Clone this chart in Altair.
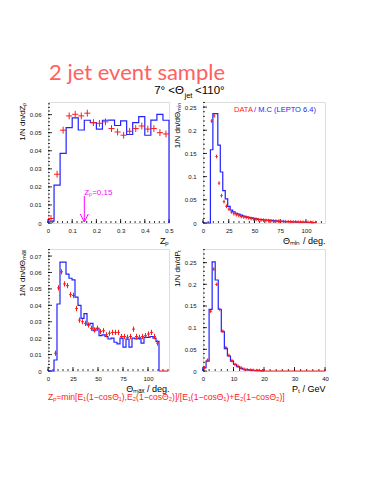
import altair as alt
import pandas as pd
import numpy as np

FONT = "Liberation Sans"
RED = "#ff1a1a"
BLUE = "#2222ff"
MAG = "#ff00ff"

# ---------------- Panel 1 : Zp ----------------
zp_bw = 0.025
zp_mc = [0.001, 0.021, 0.0385, 0.0528, 0.0582, 0.0515, 0.0569, 0.0556, 0.052, 0.0569,
         0.057, 0.054, 0.0565, 0.049, 0.0556, 0.0589, 0.0486, 0.057, 0.0602, 0.0569]
zp_data = [0.0025, 0.027, 0.0514, 0.0593, 0.0602, 0.0593, 0.0608, 0.0556, 0.0552, 0.056,
           0.0523, 0.0504, 0.0486, 0.0508, 0.0523, 0.0537, 0.052, 0.0523, 0.05, 0.0493]
zp_err = 0.0019
zp_cut = [0.15]
zp_cut_label = "Zₚ=0.15"

# ---------------- Panel 2 : Theta_min ----------------
tmin_bw = 2.4
tmin_mc = [0, 0, 0, 0.158, 0.236, 0.236, 0.168, 0.11, 0.07, 0.052, 0.036, 0.028, 0.024,
           0.021, 0.019, 0.017, 0.015, 0.013, 0.012, 0.011, 0.010, 0.009, 0.008, 0.0075,
           0.007, 0.0065, 0.006, 0.0055, 0.005, 0.0045, 0.004, 0.004, 0.0035, 0.003, 0.003,
           0.0028, 0.0025, 0.0023, 0.002, 0.002, 0.0018, 0.0015, 0.0015, 0.0012, 0.001]
tmin_data = [None, None, None, 0.22, 0.231, 0.1435, 0.086, 0.059, 0.046, 0.036, 0.03,
             0.024, 0.02, 0.018, 0.016, 0.014, 0.013, 0.012, 0.011, 0.0095, 0.009, 0.008,
             0.007, 0.0065, 0.006, 0.0055, 0.005, 0.0045, 0.004, 0.0038, 0.0035, 0.003,
             0.003, 0.0028, 0.0025, 0.0022, 0.002, 0.002, 0.0018, 0.0015, 0.0015, 0.0013,
             0.0012, 0.001, 0.001, 0.0008]
tmin_err = 0.004

# ---------------- Panel 3 : Theta_max ----------------
tmax_bw = 3.0
tmax_mc = [0, 0, 0.0067, 0.0408, 0.0663, 0.0663, 0.059, 0.0565, 0.0555, 0.045, 0.040,
           0.032, 0.035, 0.028, 0.029, 0.0245, 0.026, 0.0215, 0.022, 0.021, 0.0195, 0.020,
           0.0175, 0.0165, 0.020, 0.0145, 0.0195, 0.0145, 0.020, 0.0195, 0.020, 0.017,
           0.0205, 0.0205, 0.021, 0.020, 0.018]
tmax_data = [None, None, 0.0108, 0.0506, 0.0604, 0.053, 0.052, 0.0465, 0.046, 0.038, 0.031,
             0.030, 0.029, 0.028, 0.026, 0.025, 0.026, 0.024, 0.0245, 0.022, 0.023, 0.0235,
             0.0235, 0.0235, 0.021, 0.021, 0.0205, 0.021, 0.0255, 0.021, 0.0205, 0.021,
             0.0215, 0.0225, 0.0235, 0.021, 0.017, 0, 0, 0]
tmax_err = 0.0016

# ---------------- Panel 4 : Pt ----------------
pt_bw = 1.0
pt_mc = [0.0077, 0.023, 0.142, 0.252, 0.21, 0.1425, 0.0908, 0.0515, 0.0346, 0.023, 0.0154,
         0.010, 0.006, 0.004, 0.003, 0.002, 0.0015, 0.001, 0.0008, 0.0005]
pt_data = [0.007, 0.025, 0.138, 0.235, 0.2, 0.142, 0.092, 0.054, 0.036, 0.024, 0.015, 0.011,
           0.007, 0.004, 0.003, 0.002, 0.0015, 0.001, 0.001, 0.0005] + [0] * 20
pt_err = 0.004

# texts
main_title = "2 jet event sample"
sub_a, sub_b, sub_c = "7° <Θ", "jet", "<110°"
formula = "Zₚ=min[E₁(1−cosΘ₁),E₂(1−cosΘ₂)]/[E₁(1−cosΘ₁)+E₂(1−cosΘ₂)]"
leg_data, leg_mc = "DATA", "/ M.C (LEPTO 6.4)"


def hist_df(vals, bw):
    xs, ys = [0.0], [0.0]
    for i, v in enumerate(vals):
        xs.append(i * bw)
        ys.append(v)
    n = len(vals)
    xs += [n * bw, n * bw]
    ys += [vals[-1], 0.0]
    return pd.DataFrame({"x": xs, "y": ys, "o": list(range(len(xs)))})


def cross_df(vals, bw, err):
    rows = []
    for i, v in enumerate(vals):
        if v is None:
            continue
        c = (i + 0.5) * bw
        e = err if v > 0 else 0.0
        rows.append(dict(x0=c - bw / 2, x1=c + bw / 2, xc=c, y=v, lo=max(v - e, 0), hi=v + e))
    return pd.DataFrame(rows)


def txt(s, x, y, size, color, align="left", font=FONT, weight="normal"):
    return alt.Chart(pd.DataFrame({"t": [s]})).mark_text(
        align=align, baseline="alphabetic", font=font, fontSize=size, color=color,
        fontWeight=weight).encode(x=alt.value(x), y=alt.value(y), text="t:N")


LABEL_EXPR = "'' + datum.value"


def panel(W, H, xdom, ydom, mc, bw, data, err, xmaj, xmin, ymaj, ymin, xtitle, ytitle, extras=()):
    xs = alt.Scale(domain=xdom, nice=False, zero=False)
    ys = alt.Scale(domain=ydom, nice=False, zero=False)
    xax = alt.Axis(values=xmaj, labelExpr=LABEL_EXPR, ticks=False, domain=False, grid=False,
                   labelFont=FONT, labelFontSize=6, labelColor="#111", labelPadding=4,
                   labelFlush=False, labelOverlap=False, title=xtitle, titleFont=FONT,
                   titleFontSize=9, titleFontWeight="normal", titleAnchor="end",
                   titlePadding=3, titleColor="#000")
    yax = alt.Axis(values=ymaj, labelExpr=LABEL_EXPR, ticks=False, domain=False, grid=False,
                   labelFont=FONT, labelFontSize=6, labelColor="#111", labelPadding=7,
                   labelFlush=False, labelOverlap=False, title=ytitle, titleFont=FONT,
                   titleFontSize=8, titleFontWeight="normal", titleAnchor="end",
                   titlePadding=3, titleColor="#000")
    X = lambda f: alt.X(f, type="quantitative", scale=xs, axis=xax)
    Y = lambda f: alt.Y(f, type="quantitative", scale=ys, axis=yax)

    layers = []
    # ticks (inward, ROOT style)
    for vals, ln in ((xmin, 2), (xmaj, 4)):
        layers.append(alt.Chart(pd.DataFrame({"t": vals})).mark_rule(color="#000", strokeWidth=0.8)
                      .encode(x=X("t"), y=alt.value(H), y2=alt.value(H - ln)))
    for vals, ln in ((ymin, 2), (ymaj, 4)):
        layers.append(alt.Chart(pd.DataFrame({"t": vals})).mark_rule(color="#000", strokeWidth=0.8)
                      .encode(y=Y("t"), x=alt.value(0), x2=alt.value(ln)))
    h = hist_df(mc, bw)
    layers.append(alt.Chart(h).mark_line(interpolate="step-after", color=BLUE, strokeWidth=1.2)
                  .encode(x=X("x"), y=Y("y"), order="o:Q"))
    c = cross_df(data, bw, err)
    layers.append(alt.Chart(c).mark_rule(color=RED, strokeWidth=1)
                  .encode(x=X("x0"), x2="x1", y=Y("y")))
    layers.append(alt.Chart(c).mark_rule(color=RED, strokeWidth=1)
                  .encode(x=X("xc"), y=Y("lo"), y2="hi"))
    for e in extras:
        layers.append(e(X, Y))
    return alt.layer(*layers).properties(width=W, height=H)


def frange(a, b, s):
    return [round(v, 6) for v in np.arange(a, b + s / 2, s)]


# panel 1 extras
def p1_extras(X, Y):
    return alt.layer(
        txt(main_title, 1, -22, 22, "#ff6060", font="Lato"),
        txt(sub_a, 136, -8.5, 11.5, "#000", align="right"),
        txt(sub_b, 136.5, -4.5, 7.5, "#000"),
        txt(sub_c, 147, -8.5, 11.5, "#000"),
        alt.Chart(pd.DataFrame({"x": zp_cut, "t": [zp_cut_label]})).mark_text(
            align="left", baseline="middle", font=FONT, fontSize=8, color=MAG)
        .encode(x=X("x"), y=alt.value(90.5), text="t:N"),
        alt.Chart(pd.DataFrame({"x": zp_cut})).mark_rule(color=MAG, strokeWidth=1)
        .encode(x=X("x"), y=alt.value(94), y2=alt.value(120)),
        alt.Chart(pd.DataFrame({"x": zp_cut})).mark_point(
            shape="M-1,-1L0,1L1,-1", filled=False, color=MAG, size=64, strokeWidth=1, opacity=1)
        .encode(x=X("x"), y=alt.value(116)),
    )


def p2_extras(X, Y):
    return alt.layer(
        txt(leg_data, 31, 10, 7.5, RED),
        txt(leg_mc, 51, 10, 7.5, BLUE),
    )


def p3_extras(X, Y):
    return txt(formula, 0, 151, 8.6, RED)


p1 = panel(121, 121, [0, 0.5], [0, 0.067], zp_mc, zp_bw, zp_data, zp_err,
           frange(0, 0.5, 0.1), frange(0, 0.5, 0.02), frange(0, 0.06, 0.01), frange(0, 0.066, 0.002),
           "Zₚ", "1/N dn/dZₚ", extras=(p1_extras,))
p2 = panel(122, 121, [0, 118.5], [0, 0.261], tmin_mc, tmin_bw, tmin_data, tmin_err,
           [0, 25, 50, 75, 100], frange(0, 115, 5), frange(0, 0.25, 0.05), frange(0, 0.26, 0.01),
           "Θₘᵢₙ / deg.", "1/N dn/dΘₘᵢₙ", extras=(p2_extras,))
p3 = panel(121, 122, [0, 121], [0, 0.0743], tmax_mc, tmax_bw, tmax_data, tmax_err,
           [0, 25, 50, 75, 100], frange(0, 120, 5), frange(0, 0.07, 0.01), frange(0, 0.074, 0.002),
           "Θₘₐₓ / deg.", "1/N dn/dΘₘₐₓ", extras=(p3_extras,))
p4 = panel(122, 122, [0, 40], [0, 0.2815], pt_mc, pt_bw, pt_data, pt_err,
           [0, 10, 20, 30, 40], frange(0, 40, 2), frange(0, 0.25, 0.05), frange(0, 0.28, 0.01),
           "Pₜ / GeV", "1/N dn/dPₜ")

chart = alt.concat(p1, p2, p3, p4, columns=2, spacing={"row": 26, "column": 34},
                   bounds="flush").properties(
    padding={"left": 9, "top": 53, "right": 0, "bottom": 0}
).configure_view(stroke="#222", strokeWidth=1).configure(background="white")

chart.save("out.html", embed_options={"renderer": "svg", "actions": False})
